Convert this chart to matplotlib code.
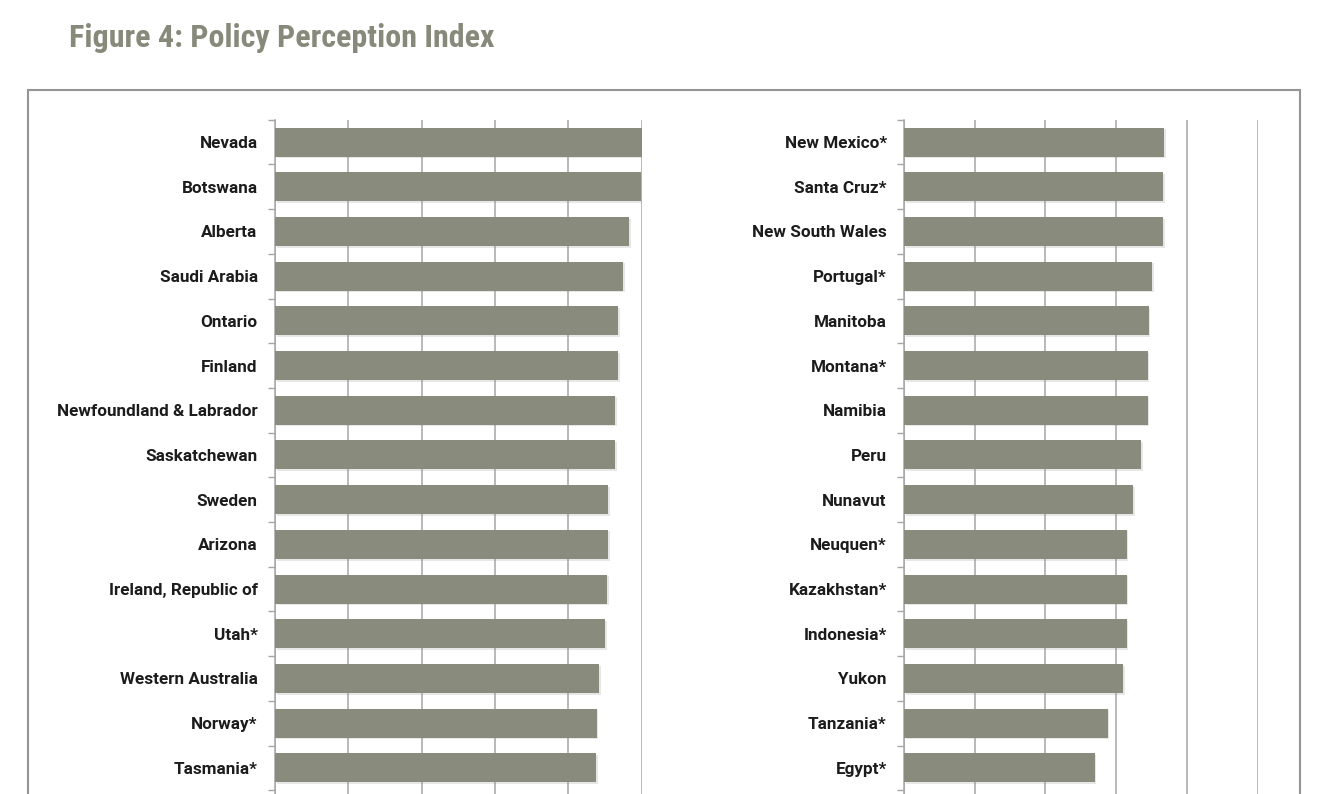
import matplotlib
matplotlib.use("Agg")
import matplotlib.pyplot as plt
import matplotlib.patheffects as pe
from matplotlib import font_manager
from matplotlib.patches import Rectangle

left_names = ["Nevada", "Botswana", "Alberta", "Saudi Arabia", "Ontario", "Finland",
              "Newfoundland & Labrador", "Saskatchewan", "Sweden", "Arizona",
              "Ireland, Republic of", "Utah*", "Western Australia", "Norway*", "Tasmania*"]
left_values = [100.0, 99.9, 96.5, 95.0, 93.5, 93.5, 92.8, 92.8, 90.8, 90.8, 90.5, 90.1, 88.4, 87.7, 87.5]

right_names = ["New Mexico*", "Santa Cruz*", "New South Wales", "Portugal*", "Manitoba",
               "Montana*", "Namibia", "Peru", "Nunavut", "Neuquen*", "Kazakhstan*",
               "Indonesia*", "Yukon", "Tanzania*", "Egypt*"]
right_values = [73.5, 73.2, 73.2, 70.1, 69.2, 68.9, 68.9, 67.0, 64.7, 63.0, 63.0, 63.0, 61.9, 57.6, 53.9]

x_ticks = [0, 20, 40, 60, 80, 100]

BAR_COLOR = "#898b7d"
GRID_COLOR = "#a6a6a6"
TITLE_COLOR = "#878a7b"

# pick a condensed face for the title if one is installed
installed = {f.name for f in font_manager.fontManager.ttflist}
title_font = next((n for n in ["Roboto Condensed", "Liberation Sans Narrow"] if n in installed), None)

W, H = 1330, 794
fig = plt.figure(figsize=(W / 100, H / 100), dpi=100)

if title_font:
    fig.text(69 / W, 1 - 38 / H, "Figure 4: Policy Perception Index", family=title_font,
             fontsize=23, weight="bold", color=TITLE_COLOR, ha="left", va="center")
else:
    fig.text(69 / W, 1 - 38 / H, "Figure 4: Policy Perception Index", family="Roboto",
             fontsize=17, weight="bold", color=TITLE_COLOR, ha="left", va="center")

# outer frame, runs off the bottom of the page
fig.add_artist(Rectangle((28 / W, 1 - 900 / H), (1300 - 28) / W, (900 - 90) / H,
                         transform=fig.transFigure, fill=False, edgecolor="#959595", lw=1.5))

row_h = 44.7
y_top = 119.7
n_rows = 16
y_bot = y_top + n_rows * row_h


def panel(x0, x1, names, values):
    ax = fig.add_axes([x0 / W, 1 - y_bot / H, (x1 - x0) / W, (y_bot - y_top) / H])
    pos = list(range(len(names)))
    ax.barh(pos, values, height=0.65, color=BAR_COLOR, zorder=3,
            path_effects=[pe.SimplePatchShadow(offset=(1.2, -1.2), shadow_rgbFace="#888888", alpha=0.2),
                          pe.Normal()])
    ax.set_xlim(0, 100)
    ax.set_ylim(n_rows - 0.5, -0.5)
    ax.set_xticks(x_ticks)
    ax.tick_params(axis="x", length=0, labelbottom=False)
    ax.xaxis.grid(True, color=GRID_COLOR, lw=1.1)
    ax.set_axisbelow(True)
    ax.set_yticks(pos, labels=names)
    ax.set_yticks([p - 0.5 for p in range(n_rows + 1)], minor=True)
    ax.tick_params(axis="y", which="major", length=0, pad=12.5)
    ax.tick_params(axis="y", which="minor", length=5, width=1, color=GRID_COLOR)
    for lab in ax.get_yticklabels():
        lab.set_fontfamily("Roboto")
        lab.set_fontweight("bold")
        lab.set_fontsize(12.3)
        lab.set_color("#1c1c1c")
    for s in ["top", "right", "bottom"]:
        ax.spines[s].set_visible(False)
    ax.spines["left"].set_color(GRID_COLOR)
    ax.spines["left"].set_linewidth(1.1)
    ax.set_facecolor("none")
    return ax


panel(275, 641.7, left_names, left_values)
panel(904, 1257.7, right_names, right_values)

fig.savefig("out.png", dpi=100)
